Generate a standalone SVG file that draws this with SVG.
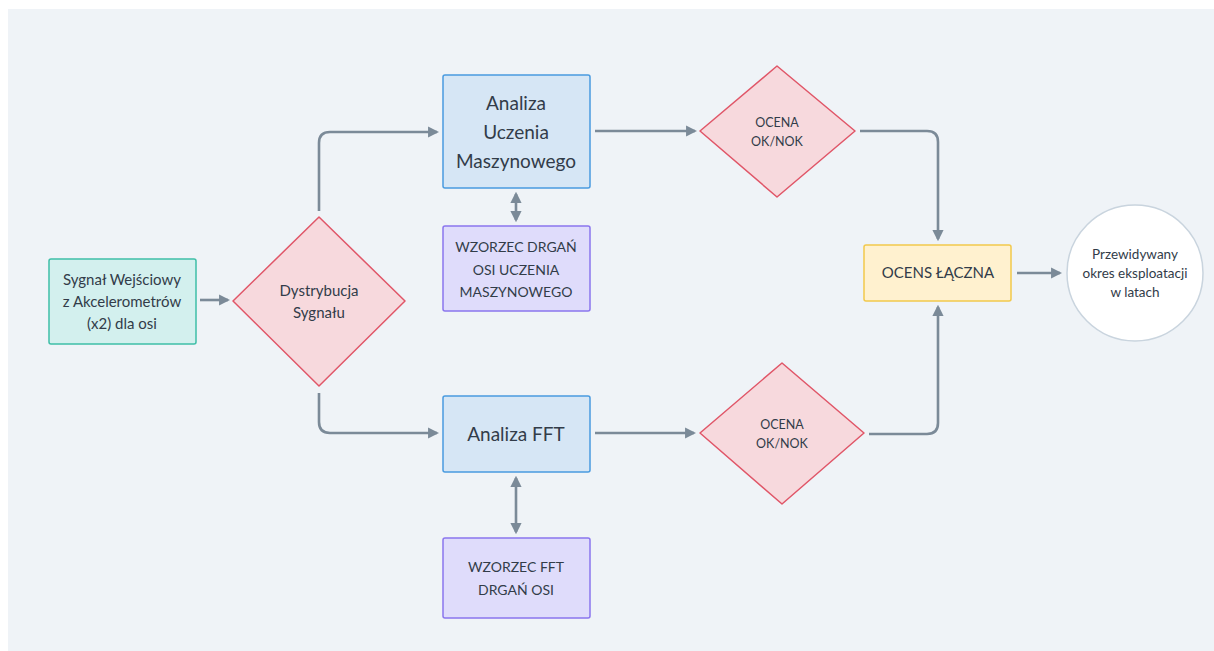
<svg xmlns="http://www.w3.org/2000/svg" width="1214" height="651" viewBox="0 0 1214 651">
  <style>
    text { font-family: Lato, "Noto Sans", "DejaVu Sans", sans-serif; fill: #323c49; text-anchor: middle; }
    .t19 { font-size: 19px; }
    .t15 { font-size: 15px; }
    .t14 { font-size: 14px; }
    .t13 { font-size: 13.5px; }
    .t12 { font-size: 12.5px; }
    .edge { fill: none; stroke: #7b8a98; stroke-width: 2.6; }
    .box-teal { fill: #d3f0ee; stroke: #3fbfa8; stroke-width: 1.5; }
    .box-blue { fill: #d6e6f5; stroke: #4a9be0; stroke-width: 1.5; }
    .box-violet { fill: #dfdcfb; stroke: #8b76ee; stroke-width: 1.5; }
    .box-yellow { fill: #fff1cf; stroke: #f2c94c; stroke-width: 1.5; }
    .decision { fill: #f7d9dd; stroke: #e05668; stroke-width: 1.5; stroke-linejoin: round; }
    .terminal { fill: #ffffff; stroke: #c9d4de; stroke-width: 1.5; }
  </style>
  <defs>
    <marker id="arrow" viewBox="0 0 10 10" refX="8" refY="5" markerWidth="4.3" markerHeight="4.3" orient="auto-start-reverse" markerUnits="strokeWidth">
      <path d="M0,0 L10,5 L0,10 Z" fill="#7b8a98"/>
    </marker>
  </defs>

  <!-- canvas -->
  <rect x="0" y="0" width="1214" height="651" fill="#ffffff"/>
  <rect x="8" y="9" width="1206" height="642" fill="#eff3f7"/>

  <!-- connectors -->
  <g id="connectors">
    <path class="edge" marker-end="url(#arrow)" d="M200,300 H228"/>
    <path class="edge" marker-end="url(#arrow)" d="M319,211 V143 Q319,132 330,132 H437"/>
    <path class="edge" marker-end="url(#arrow)" d="M319,393 V422 Q319,433 330,433 H437"/>
    <path class="edge" marker-start="url(#arrow)" marker-end="url(#arrow)" d="M516,194 V220"/>
    <path class="edge" marker-start="url(#arrow)" marker-end="url(#arrow)" d="M516,478 V532"/>
    <path class="edge" marker-end="url(#arrow)" d="M595,131 H695"/>
    <path class="edge" marker-end="url(#arrow)" d="M595,433 H694"/>
    <path class="edge" marker-end="url(#arrow)" d="M860,131 H927 Q938,131 938,142 V239"/>
    <path class="edge" marker-end="url(#arrow)" d="M869,434 H927 Q938,434 938,423 V307"/>
    <path class="edge" marker-end="url(#arrow)" d="M1017,273 H1060"/>
  </g>

  <g id="input">
    <rect class="box-teal" x="49" y="259" width="147" height="85" rx="2"/>
    <text class="t15" x="122" y="285">Sygnał Wejściowy</text>
    <text class="t15" x="122" y="307">z Akcelerometrów</text>
    <text class="t15" x="122" y="329">(x2) dla osi</text>
  </g>

  <g id="distribution">
    <polygon class="decision" points="319,217 405,301 319,386 233,301"/>
    <text class="t15" x="319" y="296">Dystrybucja</text>
    <text class="t15" x="319" y="318">Sygnału</text>
  </g>

  <g id="ml-analysis">
    <rect class="box-blue" x="443" y="75" width="147" height="113" rx="2"/>
    <text class="t19" x="516" y="110">Analiza</text>
    <text class="t19" x="516" y="139">Uczenia</text>
    <text class="t19" x="516" y="168">Maszynowego</text>
  </g>

  <g id="ml-pattern">
    <rect class="box-violet" x="443" y="226" width="147" height="85" rx="2"/>
    <text class="t14" x="516" y="252">WZORZEC DRGAŃ</text>
    <text class="t14" x="516" y="275">OSI UCZENIA</text>
    <text class="t14" x="516" y="297">MASZYNOWEGO</text>
  </g>

  <g id="fft-analysis">
    <rect class="box-blue" x="443" y="396" width="147" height="76" rx="2"/>
    <text class="t19" x="516" y="441">Analiza FFT</text>
  </g>

  <g id="fft-pattern">
    <rect class="box-violet" x="443" y="538" width="147" height="80" rx="2"/>
    <text class="t14" x="516" y="572">WZORZEC FFT</text>
    <text class="t14" x="516" y="595">DRGAŃ OSI</text>
  </g>

  <g id="ml-check">
    <polygon class="decision" points="777,66 855,131 777,197 700,131"/>
    <text class="t12" x="777" y="127">OCENA</text>
    <text class="t12" x="777" y="146">OK/NOK</text>
  </g>

  <g id="fft-check">
    <polygon class="decision" points="782,363 864,433 782,504 700,433"/>
    <text class="t12" x="782" y="429">OCENA</text>
    <text class="t12" x="782" y="448">OK/NOK</text>
  </g>

  <g id="combined">
    <rect class="box-yellow" x="864" y="245" width="147" height="56" rx="2"/>
    <text class="t15" x="938" y="278">OCENS ŁĄCZNA</text>
  </g>

  <g id="result">
    <circle class="terminal" cx="1135" cy="273" r="68"/>
    <text class="t13" x="1135" y="259">Przewidywany</text>
    <text class="t13" x="1135" y="278">okres eksploatacji</text>
    <text class="t13" x="1135" y="297">w latach</text>
  </g>
</svg>
